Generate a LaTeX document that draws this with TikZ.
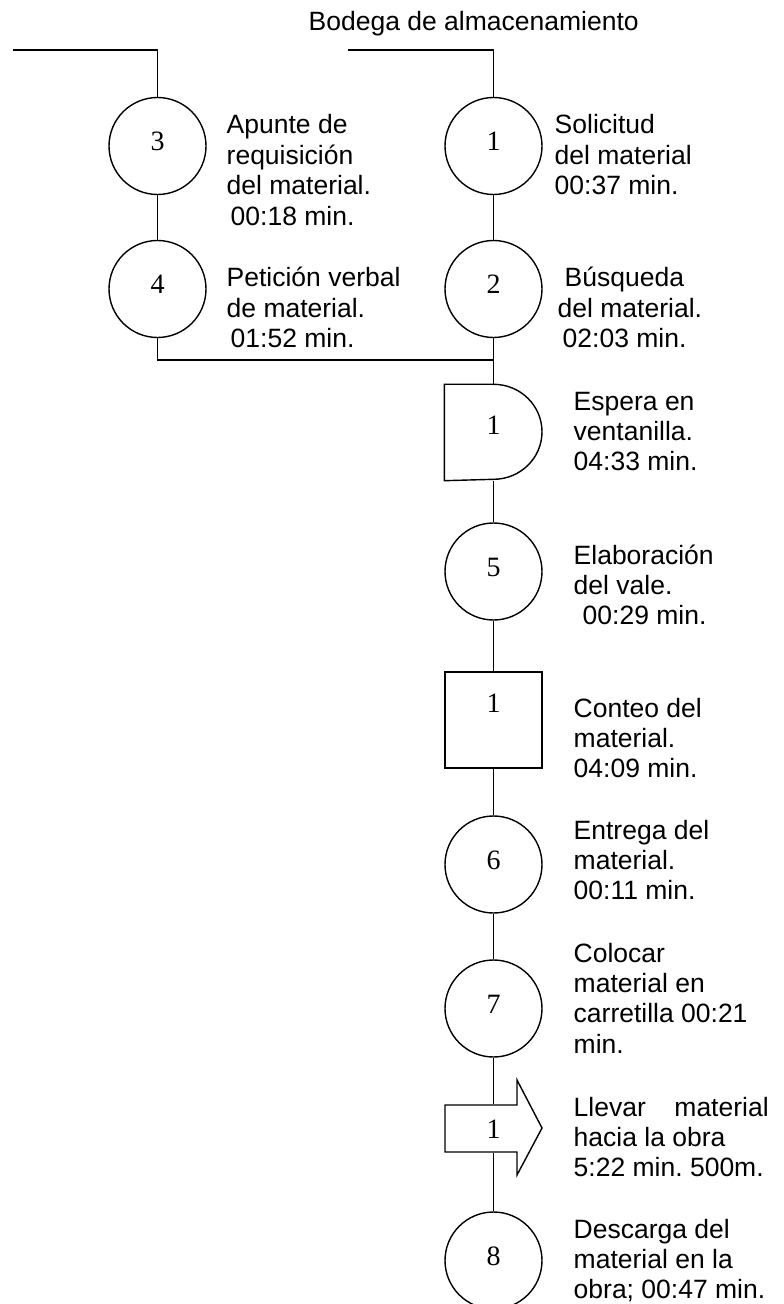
\documentclass[tikz,border=0pt]{standalone}
\usepackage{fontspec}
\setmainfont{Liberation Sans}
\newfontfamily\numfont{Liberation Serif}
% stacked left-aligned lines whose baseline is the first line's
\newcommand\lns[1]{\vtop{\baselineskip=15.2pt\lineskiplimit=-100pt\halign{##\hfil\cr#1\crcr}}}

\begin{document}
\frenchspacing
\begin{tikzpicture}[x=0.5pt,y=-0.5pt,line width=0.7pt,
  every node/.style={inner sep=0pt},
  num/.style={font=\numfont\fontsize{14}{14}\selectfont,text height=9.5pt},
  op/.style={num,circle,draw,minimum size=48.5pt,text depth=5pt},
  insp/.style={num,rectangle,draw,minimum width=48.5pt,minimum height=48pt,text depth=17pt},
  delaybox/.style={num,rectangle,minimum width=48.5pt,minimum height=47.5pt,text depth=7pt},
  movebox/.style={num,rectangle,minimum width=0pt,minimum height=23.5pt,text depth=0pt},
  txt/.style={anchor=base west,font=\fontsize{13.25}{15.2}\selectfont}]
\useasboundingbox (0,0) rectangle (783,1304);

% title
\node[txt] (title) at (308,30.7) {Bodega de almacenamiento};

% left branch
\coordinate (tl) at (13,50);
\node[op] (c3) at (157.5,146) {3};
\node[op] (c4) at (157.5,289) {4};

% right branch and main column
\coordinate (tr) at (348,50);
\node[op] (c1) at (493.5,146) {1};
\node[op] (c2) at (493.5,289) {2};
\coordinate (j) at (493.5,360);
\node[delaybox] (d1) at (493.5,432.5) {1\hspace{4.5pt}};
\node[op] (c5) at (493.5,571.5) {5};
\node[insp] (sq) at (493.5,720) {1};
\node[op] (c6) at (493.5,864.5) {6};
\node[op] (c7) at (493.5,1008.5) {7};
\node[movebox] (a1) at (493.5,1128.5) {1\hspace{4.5pt}};
\node[op] (c8) at (493.5,1260.5) {8};

% delay symbol: flat left side, rounded right side
\draw (d1.south west) -- (d1.north west) -- (d1.north)
  arc[start angle=90,end angle=-90,x radius=24.25pt,y radius=23.75pt] -- cycle;

% transport arrow
\draw (445,1105) -- (517,1105) -- (517,1080) -- (542,1128) -- (517,1175)
  -- (517,1152) -- (445,1152) -- cycle;

% connectors
\draw (tl) -| (c3.north);
\draw (tr) -| (c1.north);
\draw (c3) -- (c4);
\draw (c1) -- (c2);
\draw (c4.south) |- (j);
\draw (c2) -- (d1.north);
\draw (d1.south) -- (c5);
\draw (c5) -- (sq);
\draw (sq) -- (c6);
\draw (c6) -- (c7);
\draw (c7) -- (a1.north);
\draw (a1.south) -- (c8);

% descriptions
\node[txt] (t3) at (226,134) {\lns{Apunte de\cr requisición\cr del material.\cr \kern2pt 00:18 min.}};
\node[txt] (t4) at (226,287) {\lns{Petición verbal\cr de material.\cr \kern2pt 01:52 min.}};
\node[txt] (t1) at (554,134) {\lns{Solicitud\cr del material\cr 00:37 min.}};
\node[txt] (t2) at (557,287) {\lns{\kern3.5pt Búsqueda\cr del material.\cr \kern2.5pt 02:03 min.}};
\node[txt] (td) at (573,410) {\lns{Espera en\cr ventanilla.\cr 04:33 min.}};
\node[txt] (t5) at (573,564) {\lns{Elaboración\cr del vale.\cr \kern4.5pt 00:29 min.}};
\node[txt] (ts) at (573,717) {\lns{Conteo del\cr material.\cr 04:09 min.}};
\node[txt] (t6) at (573,839) {\lns{Entrega del\cr material.\cr 00:11 min.}};
\node[txt] (t7) at (573,962) {\lns{Colocar\cr material en\cr carretilla 00:21\cr min.}};
\node[txt] (ta) at (573,1116) {\lns{\hbox to 97.5pt{Llevar\hfill material}\cr hacia la obra\cr 5:22 min. 500m.}};
\node[txt] (t8) at (573,1238) {\lns{Descarga del\cr material en la\cr obra; 00:47 min.}};
\end{tikzpicture}
\end{document}
